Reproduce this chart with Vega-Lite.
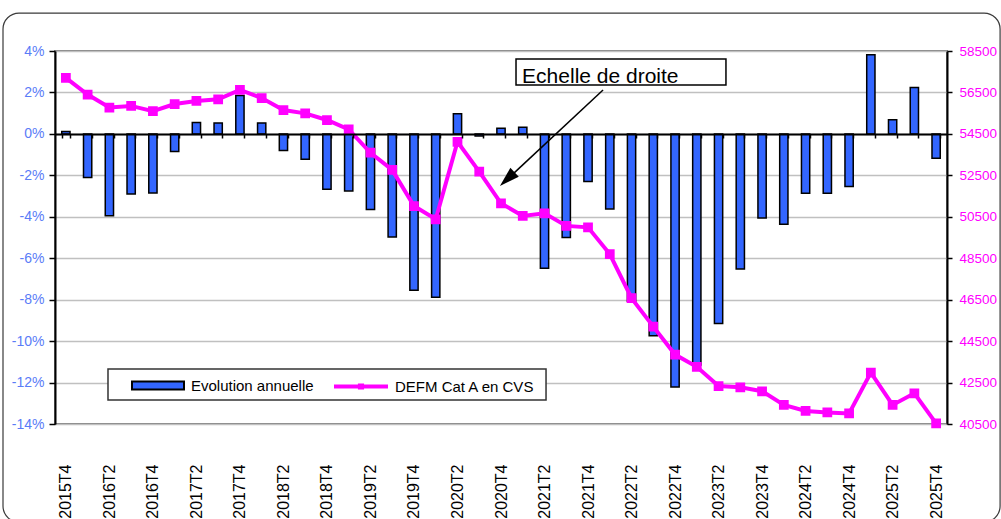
{
  "$schema": "https://vega.github.io/schema/vega-lite/v6.json",
  "width": 892,
  "height": 373,
  "autosize": {"type": "none"},
  "padding": {"left": 55, "top": 51, "right": 54, "bottom": 95},
  "background": "white",
  "config": {
    "font": "Liberation Sans",
    "view": {"stroke": "#808080", "strokeWidth": 2}
  },
  "layer": [
    {
      "layer": [
        {
          "data": {"values": [{"x1": -2.39, "x2": 43.44, "y1": 5.83, "y2": -18.73}]},
          "mark": {"type": "rect", "fill": "transparent", "stroke": "#3a3a3a", "strokeWidth": 1.2, "cornerRadius": 16, "clip": false},
          "encoding": {
            "x": {"field": "x1", "type": "quantitative", "scale": {"domain": [0, 41], "nice": false, "zero": false}, "axis": null},
            "x2": {"field": "x2"},
            "y": {"field": "y1", "type": "quantitative", "scale": {"domain": [-14, 4], "nice": false, "zero": false}, "axis": null},
            "y2": {"field": "y2"}
          }
        }
      ]
    },
    {
      "data": {
        "values": [
          {"q": "2015T4", "evol": 0.12, "defm": 57200},
          {"q": "2016T1", "evol": -2.1, "defm": 56400},
          {"q": "2016T2", "evol": -3.95, "defm": 55770},
          {"q": "2016T3", "evol": -2.9, "defm": 55850},
          {"q": "2016T4", "evol": -2.85, "defm": 55600},
          {"q": "2017T1", "evol": -0.85, "defm": 55940},
          {"q": "2017T2", "evol": 0.55, "defm": 56090},
          {"q": "2017T3", "evol": 0.53, "defm": 56170},
          {"q": "2017T4", "evol": 1.85, "defm": 56620},
          {"q": "2018T1", "evol": 0.53, "defm": 56230},
          {"q": "2018T2", "evol": -0.8, "defm": 55650},
          {"q": "2018T3", "evol": -1.22, "defm": 55490},
          {"q": "2018T4", "evol": -2.67, "defm": 55170},
          {"q": "2019T1", "evol": -2.75, "defm": 54720},
          {"q": "2019T2", "evol": -3.65, "defm": 53590},
          {"q": "2019T3", "evol": -4.98, "defm": 52760},
          {"q": "2019T4", "evol": -7.55, "defm": 51020},
          {"q": "2020T1", "evol": -7.88, "defm": 50380},
          {"q": "2020T2", "evol": 0.97, "defm": 54120},
          {"q": "2020T3", "evol": -0.1, "defm": 52680},
          {"q": "2020T4", "evol": 0.27, "defm": 51150},
          {"q": "2021T1", "evol": 0.32, "defm": 50540},
          {"q": "2021T2", "evol": -6.48, "defm": 50670},
          {"q": "2021T3", "evol": -5.0, "defm": 50060},
          {"q": "2021T4", "evol": -2.3, "defm": 49990},
          {"q": "2022T1", "evol": -3.62, "defm": 48700},
          {"q": "2022T2", "evol": -8.08, "defm": 46570},
          {"q": "2022T3", "evol": -9.74, "defm": 45200},
          {"q": "2022T4", "evol": -12.22, "defm": 43850},
          {"q": "2023T1", "evol": -11.15, "defm": 43260},
          {"q": "2023T2", "evol": -9.15, "defm": 42330},
          {"q": "2023T3", "evol": -6.52, "defm": 42270},
          {"q": "2023T4", "evol": -4.06, "defm": 42080},
          {"q": "2024T1", "evol": -4.36, "defm": 41420},
          {"q": "2024T2", "evol": -2.87, "defm": 41130},
          {"q": "2024T3", "evol": -2.87, "defm": 41060},
          {"q": "2024T4", "evol": -2.54, "defm": 41010},
          {"q": "2025T1", "evol": 3.82, "defm": 42980},
          {"q": "2025T2", "evol": 0.68, "defm": 41420},
          {"q": "2025T3", "evol": 2.24, "defm": 41980},
          {"q": "2025T4", "evol": -1.17, "defm": 40530}
        ]
      },
      "layer": [
        {
          "mark": {"type": "bar", "stroke": "black", "strokeWidth": 1.5},
          "encoding": {
            "x": {
              "field": "q", "type": "ordinal", "sort": null,
              "scale": {"type": "band", "paddingInner": 0.62, "paddingOuter": 0.31},
              "axis": {
                "title": null, "offset": -290, "zindex": 1,
                "domainColor": "black", "domainWidth": 2,
                "tickBand": "extent", "tickSize": 4, "tickColor": "black", "tickWidth": 1.5,
                "labelAngle": -90, "labelPadding": 326, "labelFontSize": 16, "labelColor": "black",
                "labelOverlap": false, "labelBound": false,
                "labelExpr": "test(/T[24]$/, datum.label) ? datum.label : ''"
              }
            },
            "y": {
              "field": "evol", "type": "quantitative",
              "scale": {"domain": [-14, 4], "nice": false, "zero": false},
              "axis": {
                "title": null,
                "values": [-14, -12, -10, -8, -6, -4, -2, 0, 2, 4],
                "labelExpr": "datum.value + '%'",
                "grid": true, "gridColor": "#c0c0c0", "gridWidth": 1.5,
                "domainColor": "black", "domainWidth": 2,
                "tickColor": "black", "tickSize": 6, "tickWidth": 1.5,
                "labelColor": "#5a7cf7", "labelFontSize": 14, "labelPadding": 5
              }
            },
            "y2": {"datum": 0},
            "fill": {
              "datum": "Evolution annuelle",
              "scale": {"domain": ["Evolution annuelle"], "range": ["#3366ff"]},
              "legend": {
                "title": null, "orient": "none", "legendX": 76, "legendY": 307.5,
                "padding": 0, "symbolSize": 2704,
                "symbolType": "M-1,-0.15H1V0.15H-1Z",
                "symbolStrokeColor": "black", "symbolStrokeWidth": 2,
                "labelOffset": 6, "labelFontSize": 15, "labelColor": "black"
              }
            }
          }
        },
        {
          "mark": {"type": "line", "color": "#ff00ff", "strokeWidth": 4, "point": {"filled": true, "shape": "square", "size": 60, "color": "#ff00ff"}},
          "encoding": {
            "x": {"field": "q", "type": "ordinal", "sort": null},
            "y": {
              "field": "defm", "type": "quantitative",
              "scale": {"domain": [40500, 58500], "nice": false, "zero": false},
              "axis": {
                "orient": "right", "title": null,
                "values": [40500, 42500, 44500, 46500, 48500, 50500, 52500, 54500, 56500, 58500],
                "format": "d", "grid": false,
                "domainColor": "black", "domainWidth": 2,
                "tickColor": "black", "tickSize": 5, "tickWidth": 1.5,
                "labelColor": "#ff00ff", "labelFontSize": 13.5, "labelPadding": 7
              }
            },
            "stroke": {
              "datum": "DEFM Cat A en CVS",
              "scale": {"domain": ["DEFM Cat A en CVS"], "range": ["#ff00ff"]},
              "legend": {
                "title": null, "orient": "none", "legendX": 277, "legendY": 306.5,
                "padding": 0, "symbolSize": 2916,
                "symbolType": "M-1,0H1M-0.04,-0.04H0.04V0.04H-0.04Z",
                "symbolStrokeWidth": 4, "symbolStrokeColor": "#ff00ff",
                "labelOffset": 5, "labelFontSize": 15, "labelColor": "black"
              }
            }
          }
        }
      ],
      "resolve": {"scale": {"y": "independent"}}
    },
    {
      "layer": [
        {
          "data": {"values": [{"x1": 2.436, "x2": 22.57, "y1": -11.346, "y2": -12.842}]},
          "mark": {"type": "rect", "fill": "white", "stroke": "#333333", "strokeWidth": 1.5},
          "encoding": {
            "x": {"field": "x1", "type": "quantitative", "scale": {"domain": [0, 41], "nice": false, "zero": false}, "axis": null},
            "x2": {"field": "x2"},
            "y": {"field": "y1", "type": "quantitative", "scale": {"domain": [-14, 4], "nice": false, "zero": false}, "axis": null},
            "y2": {"field": "y2"}
          }
        },
        {
          "data": {"values": [{"x1": 21.19, "x2": 30.84, "y1": 3.614, "y2": 2.359}]},
          "mark": {"type": "rect", "fill": "white", "stroke": "black", "strokeWidth": 1.5},
          "encoding": {
            "x": {"field": "x1", "type": "quantitative", "scale": {"domain": [0, 41], "nice": false, "zero": false}, "axis": null},
            "x2": {"field": "x2"},
            "y": {"field": "y1", "type": "quantitative", "scale": {"domain": [-14, 4], "nice": false, "zero": false}, "axis": null},
            "y2": {"field": "y2"}
          }
        },
        {
          "data": {"values": [{"x": 21.47, "y": 2.47, "t": "Echelle de droite"}]},
          "mark": {"type": "text", "align": "left", "baseline": "alphabetic", "fontSize": 21, "color": "black"},
          "encoding": {
            "x": {"field": "x", "type": "quantitative", "scale": {"domain": [0, 41], "nice": false, "zero": false}, "axis": null},
            "y": {"field": "y", "type": "quantitative", "scale": {"domain": [-14, 4], "nice": false, "zero": false}, "axis": null},
            "text": {"field": "t"}
          }
        },
        {
          "data": {"values": [{"x1": 25.19, "y1": 2.118, "x2": 20.79, "y2": -2.19}]},
          "mark": {"type": "rule", "color": "black", "strokeWidth": 1.5},
          "encoding": {
            "x": {"field": "x1", "type": "quantitative", "scale": {"domain": [0, 41], "nice": false, "zero": false}, "axis": null},
            "x2": {"field": "x2"},
            "y": {"field": "y1", "type": "quantitative", "scale": {"domain": [-14, 4], "nice": false, "zero": false}, "axis": null},
            "y2": {"field": "y2"}
          }
        },
        {
          "data": {"values": [{"x": 20.45, "y": -2.515}]},
          "mark": {"type": "point", "filled": true, "shape": "M0,0L0.4,1.3L-0.4,1.3Z", "size": 950, "angle": 227, "color": "black", "opacity": 1, "strokeWidth": 0},
          "encoding": {
            "x": {"field": "x", "type": "quantitative", "scale": {"domain": [0, 41], "nice": false, "zero": false}, "axis": null},
            "y": {"field": "y", "type": "quantitative", "scale": {"domain": [-14, 4], "nice": false, "zero": false}, "axis": null}
          }
        }
      ]
    }
  ],
  "resolve": {"scale": {"x": "independent", "y": "independent"}}
}
